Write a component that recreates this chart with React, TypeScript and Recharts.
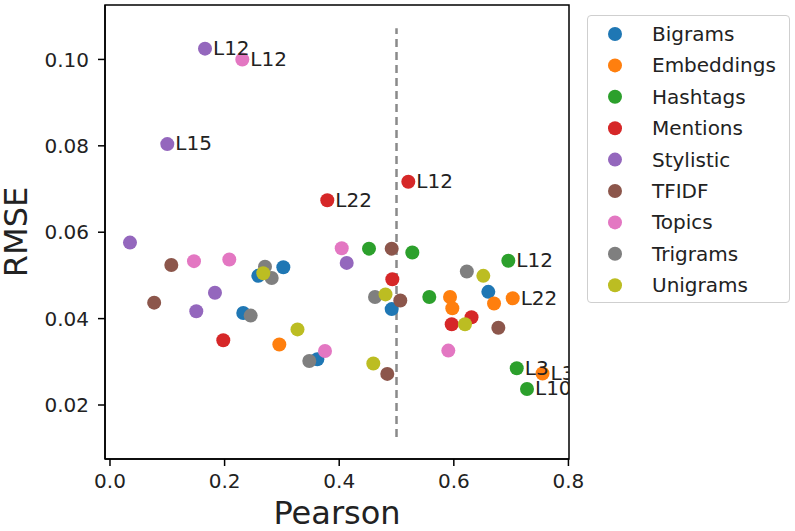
import React from 'react';
import {
  ScatterChart,
  Scatter,
  XAxis,
  YAxis,
  ReferenceLine,
  ReferenceArea,
  Legend,
  Label,
} from 'recharts';

type Pt = { pearson: number; rmse: number; note?: string };

const bigrams: Pt[] = [
  { pearson: 0.3025, rmse: 0.0519 },
  { pearson: 0.2588, rmse: 0.0499 },
  { pearson: 0.2326, rmse: 0.0413 },
  { pearson: 0.3618, rmse: 0.0306 },
  { pearson: 0.4916, rmse: 0.0422 },
  { pearson: 0.6602, rmse: 0.0462 },
];
const embeddings: Pt[] = [
  { pearson: 0.2955, rmse: 0.034 },
  { pearson: 0.5934, rmse: 0.045 },
  { pearson: 0.5974, rmse: 0.0424 },
  { pearson: 0.6702, rmse: 0.0435 },
  { pearson: 0.7028, rmse: 0.0447, note: 'L22' },
  { pearson: 0.7548, rmse: 0.0273, note: 'L3' },
];
const hashtags: Pt[] = [
  { pearson: 0.452, rmse: 0.0562 },
  { pearson: 0.5276, rmse: 0.0553 },
  { pearson: 0.6951, rmse: 0.0534, note: 'L12' },
  { pearson: 0.5572, rmse: 0.045 },
  { pearson: 0.7098, rmse: 0.0285, note: 'L3' },
  { pearson: 0.7277, rmse: 0.0237, note: 'L10' },
];
const mentions: Pt[] = [
  { pearson: 0.5206, rmse: 0.0717, note: 'L12' },
  { pearson: 0.3792, rmse: 0.0674, note: 'L22' },
  { pearson: 0.4927, rmse: 0.0491 },
  { pearson: 0.6309, rmse: 0.0403 },
  { pearson: 0.5963, rmse: 0.0387 },
  { pearson: 0.1977, rmse: 0.035 },
];
const stylistic: Pt[] = [
  { pearson: 0.1658, rmse: 0.1025, note: 'L12' },
  { pearson: 0.1, rmse: 0.0804, note: 'L15' },
  { pearson: 0.0349, rmse: 0.0576 },
  { pearson: 0.4131, rmse: 0.0529 },
  { pearson: 0.1832, rmse: 0.046 },
  { pearson: 0.1506, rmse: 0.0417 },
];
const tfidf: Pt[] = [
  { pearson: 0.4916, rmse: 0.0562 },
  { pearson: 0.5066, rmse: 0.0442 },
  { pearson: 0.6777, rmse: 0.0379 },
  { pearson: 0.4839, rmse: 0.0272 },
  { pearson: 0.107, rmse: 0.0524 },
  { pearson: 0.0771, rmse: 0.0437 },
];
const topics: Pt[] = [
  { pearson: 0.2309, rmse: 0.1, note: 'L12' },
  { pearson: 0.4044, rmse: 0.0563 },
  { pearson: 0.5904, rmse: 0.0326 },
  { pearson: 0.3752, rmse: 0.0325 },
  { pearson: 0.1466, rmse: 0.0533 },
  { pearson: 0.2082, rmse: 0.0537 },
];
const trigrams: Pt[] = [
  { pearson: 0.6227, rmse: 0.0509 },
  { pearson: 0.4625, rmse: 0.045 },
  { pearson: 0.3478, rmse: 0.0302 },
  { pearson: 0.2705, rmse: 0.052 },
  { pearson: 0.2822, rmse: 0.0494 },
  { pearson: 0.2455, rmse: 0.0407 },
];
const unigrams: Pt[] = [
  { pearson: 0.6515, rmse: 0.0499 },
  { pearson: 0.4808, rmse: 0.0456 },
  { pearson: 0.6195, rmse: 0.0387 },
  { pearson: 0.4595, rmse: 0.0296 },
  { pearson: 0.3272, rmse: 0.0375 },
  { pearson: 0.2675, rmse: 0.0505 },
];

const seriesNames = [
  'Bigrams',
  'Embeddings',
  'Hashtags',
  'Mentions',
  'Stylistic',
  'TFIDF',
  'Topics',
  'Trigrams',
  'Unigrams',
];
const seriesData = [bigrams, embeddings, hashtags, mentions, stylistic, tfidf, topics, trigrams, unigrams];
const seriesColors = [
  '#1f77b4',
  '#ff7f0e',
  '#2ca02c',
  '#d62728',
  '#9467bd',
  '#8c564b',
  '#e377c2',
  '#7f7f7f',
  '#bcbd22',
];

const xTicks = [0, 0.2, 0.4, 0.6, 0.8];
const yTicks = [0.02, 0.04, 0.06, 0.08, 0.1];
const xDomain: [number, number] = [-0.0087, 0.801];
const yDomain: [number, number] = [0.0075, 0.1126];
const thresholdX = 0.5;
const thresholdSpan = [0.0126, 0.1072];

const annotations = seriesData.flat().filter((p) => p.note);

const FONT = '"DejaVu Sans", sans-serif';
const TEXT = '#222';

const Dot = (props: any) => {
  const { cx, cy, fill } = props;
  if (cx == null || cy == null) return null;
  return <circle cx={cx} cy={cy} r={7} fill={fill} />;
};

const Note = (props: any) => {
  const { cx, cy, payload } = props;
  if (cx == null || cy == null) return null;
  return (
    <text x={cx + 8} y={cy} dy="0.32em" fontSize={20} fontFamily={FONT} fill={TEXT}>
      {payload.note}
    </text>
  );
};

const LegendBox = () => (
  <div
    style={{
      width: 203,
      height: 288,
      boxSizing: 'border-box',
      border: '1.3px solid #cfcfcf',
      borderRadius: 4,
      background: '#fff',
      position: 'relative',
    }}
  >
    <svg width={201} height={286} style={{ position: 'absolute', left: 0, top: 0 }}>
      {seriesNames.map((name, i) => (
        <g key={name}>
          <circle cx={27} cy={18 + i * 31.4} r={7} fill={seriesColors[i]} />
          <text
            x={64}
            y={18 + i * 31.4}
            dy="0.35em"
            fontSize={20}
            fontFamily={FONT}
            fill={TEXT}
          >
            {name}
          </text>
        </g>
      ))}
    </svg>
  </div>
);

export default function App() {
  return (
    <div style={{ position: 'absolute', left: 0, top: 0, width: 795, height: 531, background: '#fff' }}>
      <ScatterChart
        width={795}
        height={531}
        margin={{ top: 5, right: 226, bottom: 0, left: 0 }}
      >
        <XAxis
          type="number"
          dataKey="pearson"
          domain={xDomain}
          allowDataOverflow
          ticks={xTicks}
          tickFormatter={(v: number) => v.toFixed(1)}
          height={72}
          tickSize={7}
          tickMargin={8}
          stroke="#000"
          strokeWidth={1.5}
          tick={{ fontSize: 20, fontFamily: FONT, fill: TEXT }}
        >
          <Label
            content={(p: any) => {
              const vb = p.viewBox || {};
              return (
                <text
                  x={vb.x + vb.width / 2}
                  y={vb.y + 54}
                  dy="0.35em"
                  textAnchor="middle"
                  fontSize={32}
                  fontFamily={FONT}
                  fill={TEXT}
                >
                  Pearson
                </text>
              );
            }}
          />
        </XAxis>
        <YAxis
          type="number"
          dataKey="rmse"
          domain={yDomain}
          allowDataOverflow
          ticks={yTicks}
          tickFormatter={(v: number) => v.toFixed(2)}
          width={105}
          tickSize={7}
          tickMargin={9}
          stroke="#000"
          strokeWidth={1.5}
          tick={{ fontSize: 20, fontFamily: FONT, fill: TEXT }}
        >
          <Label
            content={(p: any) => {
              const vb = p.viewBox || {};
              const cx = vb.x + 16;
              const cy = vb.y + vb.height / 2;
              return (
                <text
                  x={cx}
                  y={cy}
                  dy="0.35em"
                  textAnchor="middle"
                  fontSize={32}
                  fontFamily={FONT}
                  fill={TEXT}
                  transform={`rotate(-90, ${cx}, ${cy})`}
                >
                  RMSE
                </text>
              );
            }}
          />
        </YAxis>
        <ReferenceArea
          x1={xDomain[0]}
          x2={xDomain[1]}
          y1={yDomain[0]}
          y2={yDomain[1]}
          fill="none"
          fillOpacity={0}
          stroke="#000"
          strokeWidth={1.5}
        />
        <ReferenceLine
          segment={[
            { x: thresholdX, y: thresholdSpan[0] },
            { x: thresholdX, y: thresholdSpan[1] },
          ]}
          stroke="#8a8a8a"
          strokeWidth={2.5}
          strokeDasharray="8 5"
        />
        {seriesNames.map((name, i) => (
          <Scatter
            key={name}
            name={name}
            data={seriesData[i]}
            fill={seriesColors[i]}
            shape={<Dot />}
            isAnimationActive={false}
          />
        ))}
        <Scatter
          name="notes"
          data={annotations}
          fill="none"
          shape={<Note />}
          legendType="none"
          isAnimationActive={false}
        />
        <Legend
          layout="horizontal"
          verticalAlign="middle"
          align="center"
          content={() => <LegendBox />}
          wrapperStyle={{ position: 'absolute', left: 587, top: 15, width: 203, height: 288 }}
        />
      </ScatterChart>
    </div>
  );
}
